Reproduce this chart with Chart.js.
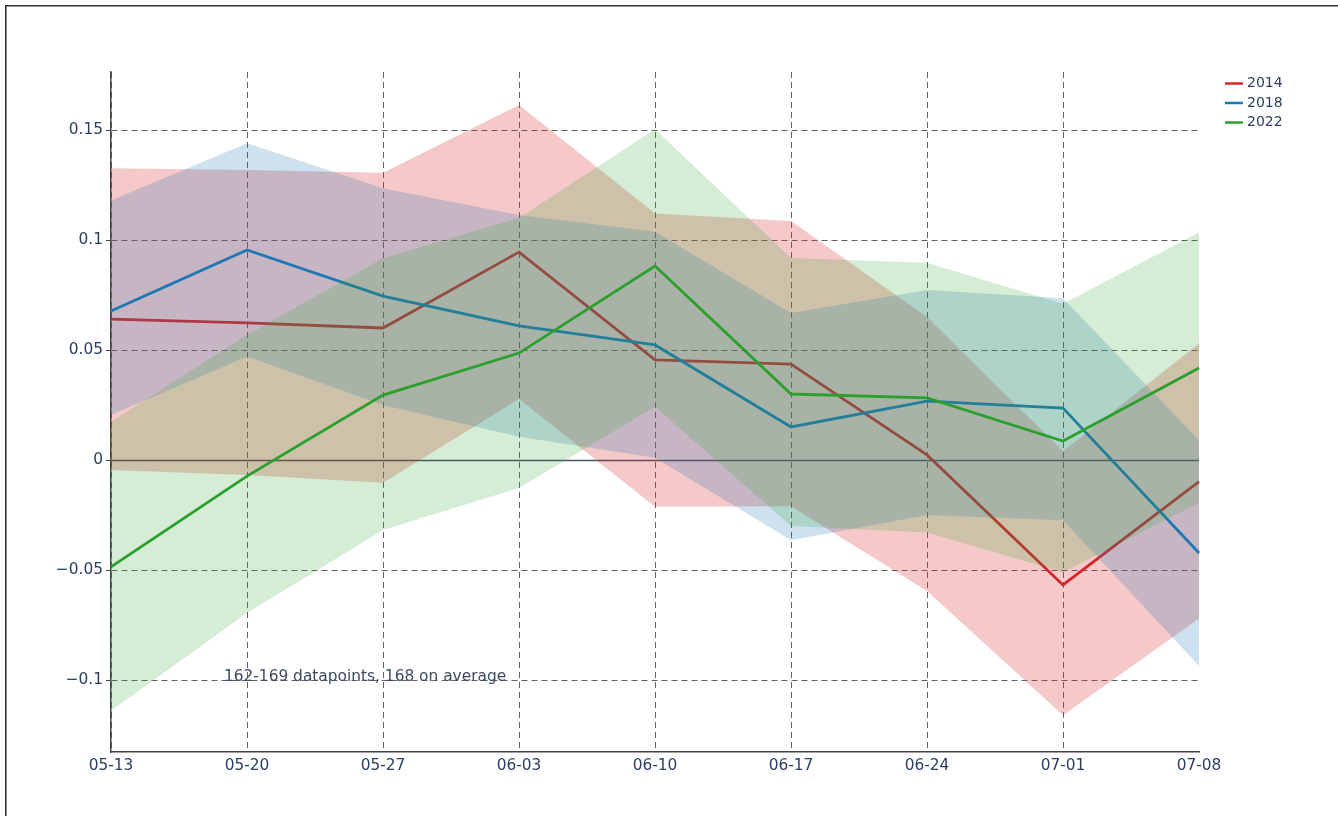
<!DOCTYPE html>
<html>
<head>
<meta charset="utf-8">
<title>Weekly values with ranges, 2014 / 2018 / 2022</title>
<script src="https://cdn.jsdelivr.net/npm/chart.js@4.4.1/dist/chart.umd.min.js"></script>
<style>
  html, body { margin: 0; padding: 0; background: #ffffff; }
  #wrap { width: 1338px; height: 816px; position: relative; }
</style>
</head>
<body>
<div id="wrap"><canvas id="chart" width="1338" height="816"></canvas></div>
<script>
// Week labels along the x axis
const weeks = ['05-13', '05-20', '05-27', '06-03', '06-10', '06-17', '06-24', '07-01', '07-08'];

// 2014: mean line and range
const mean2014 = [0.064, 0.0623, 0.060, 0.0945, 0.0455, 0.0436, 0.0023, -0.0568, -0.0098];
const high2014 = [0.1326, 0.1318, 0.1306, 0.1614, 0.1121, 0.1086, 0.065, 0.004, 0.053];
const low2014  = [-0.0045, -0.0068, -0.0103, 0.0277, -0.0212, -0.021, -0.0595, -0.116, -0.072];

// 2018: mean line and range
const mean2018 = [0.0677, 0.0955, 0.0745, 0.061, 0.0523, 0.015, 0.0268, 0.0236, -0.0423];
const high2018 = [0.118, 0.144, 0.1235, 0.1114, 0.1038, 0.0668, 0.0773, 0.0735, 0.009];
const low2018  = [0.0205, 0.047, 0.025, 0.0106, 0.001, -0.0365, -0.025, -0.0274, -0.0935];

// 2022: mean line and range
const mean2022 = [-0.0486, -0.0073, 0.0295, 0.0486, 0.0882, 0.030, 0.0282, 0.0086, 0.0418];
const high2022 = [0.0174, 0.0568, 0.0917, 0.110, 0.1503, 0.0918, 0.0897, 0.071, 0.1034];
const low2022  = [-0.114, -0.0695, -0.0318, -0.0127, 0.0242, -0.030, -0.033, -0.051, -0.0194];

// Y axis ticks and their printed labels
const yTickValues = [-0.1, -0.05, 0, 0.05, 0.1, 0.15];
const yTickLabels = ['\u22120.1', '\u22120.05', '0', '0.05', '0.1', '0.15'];

// Footnote text
const noteText = '162-169 datapoints, 168 on average';

const FONT = '"DejaVu Sans", Verdana, sans-serif';
const TEXT = '#2a3f5f';
const GRID = 'rgba(70,70,70,0.85)';

// one series = range band (upper filled down to lower) + mean line
function series(label, mean, high, low, rgb, fillAlpha, order) {
  return [
    {
      label: label + ' range',
      data: high,
      borderColor: 'rgba(0,0,0,0)',
      borderWidth: 0,
      pointRadius: 0,
      backgroundColor: 'rgba(' + rgb + ',' + fillAlpha + ')',
      fill: '+1',
      tension: 0,
      order: order + 2,
      isBand: true
    },
    {
      label: label + ' low',
      data: low,
      borderColor: 'rgba(0,0,0,0)',
      borderWidth: 0,
      pointRadius: 0,
      fill: false,
      tension: 0,
      order: order + 1,
      isBand: true
    },
    {
      label: label,
      data: mean,
      borderColor: 'rgb(' + rgb + ')',
      borderWidth: 2.8,
      pointRadius: 0,
      fill: false,
      tension: 0,
      order: order
    }
  ];
}

const datasets = [
  ...series('2014', mean2014, high2014, low2014, '214,39,40', 0.25, 7),
  ...series('2018', mean2018, high2018, low2018, '31,119,180', 0.22, 4),
  ...series('2022', mean2022, high2022, low2022, '44,160,44', 0.2, 1)
];

// zero line across the plot
const zeroLine = {
  id: 'zeroLine',
  beforeDatasetsDraw(chart) {
    const { ctx, chartArea, scales } = chart;
    const y = Math.round(scales.y.getPixelForValue(0)) + 0.5;
    ctx.save();
    ctx.strokeStyle = '#465368';
    ctx.lineWidth = 1.5;
    ctx.beginPath();
    ctx.moveTo(chartArea.left, y);
    ctx.lineTo(chartArea.right, y);
    ctx.stroke();
    ctx.restore();
  }
};

// footnote sitting on the -0.1 grid line
const footnote = {
  id: 'footnote',
  afterDatasetsDraw(chart) {
    const { ctx, chartArea, scales } = chart;
    const x = chartArea.left + (chartArea.right - chartArea.left) * 0.2335;
    const y = scales.y.getPixelForValue(-0.1) + 1;
    ctx.save();
    ctx.font = '15.4px ' + FONT;
    ctx.fillStyle = '#3c4b64';
    ctx.textAlign = 'center';
    ctx.textBaseline = 'alphabetic';
    ctx.fillText(noteText, x, y);
    ctx.restore();
  }
};

// legend in the right margin, one line sample per year
const sideLegend = {
  id: 'sideLegend',
  afterDraw(chart) {
    const { ctx, chartArea } = chart;
    const lines = chart.data.datasets.filter(d => !d.isBand);
    ctx.save();
    ctx.font = '14px ' + FONT;
    ctx.textBaseline = 'middle';
    ctx.textAlign = 'left';
    lines.forEach((d, i) => {
      const y = chartArea.top + 11.5 + i * 19.5;
      const x0 = chartArea.right + 26;
      ctx.strokeStyle = d.borderColor;
      ctx.lineWidth = 2.5;
      ctx.beginPath();
      ctx.moveTo(x0, y);
      ctx.lineTo(x0 + 18, y);
      ctx.stroke();
      ctx.fillStyle = TEXT;
      ctx.fillText(d.label, x0 + 22, y);
    });
    ctx.restore();
  }
};

// outer frame (left and top edges)
const frame = {
  id: 'frame',
  afterDraw(chart) {
    const { ctx, width, height } = chart;
    ctx.save();
    ctx.strokeStyle = '#333333';
    ctx.lineWidth = 1.6;
    ctx.beginPath();
    ctx.moveTo(5.8, height);
    ctx.lineTo(5.8, 5.8);
    ctx.lineTo(width, 5.8);
    ctx.stroke();
    ctx.restore();
  }
};

new Chart(document.getElementById('chart'), {
  type: 'line',
  data: { labels: weeks, datasets: datasets },
  plugins: [zeroLine, footnote, sideLegend, frame],
  options: {
    responsive: false,
    animation: false,
    devicePixelRatio: 1,
    layout: { padding: { top: 72, right: 139, bottom: 0, left: 0 } },
    plugins: {
      legend: { display: false },
      tooltip: { enabled: false },
      filler: { drawTime: 'beforeDatasetDraw' }
    },
    elements: { line: { borderJoinStyle: 'miter' } },
    scales: {
      x: {
        type: 'category',
        offset: false,
        grid: {
          color: (c) => (c.index === weeks.length - 1 ? 'rgba(0,0,0,0)' : GRID),
          lineWidth: 1,
          drawTicks: false
        },
        border: { display: true, color: '#444444', width: 1.5, dash: [6, 4] },
        ticks: {
          font: { family: FONT, size: 15.4 },
          color: TEXT,
          padding: 5,
          maxRotation: 0,
          autoSkip: false
        },
        afterFit: (s) => { s.height = 64; }
      },
      y: {
        type: 'linear',
        min: -(752 - 460) / 2200,
        max: (460 - 72) / 2200,
        afterBuildTicks: (s) => { s.ticks = yTickValues.map(v => ({ value: v })); },
        grid: {
          color: (c) => (c.tick && Math.abs(c.tick.value) < 1e-9 ? 'rgba(0,0,0,0)' : GRID),
          lineWidth: 1,
          tickColor: '#444444',
          tickLength: 5,
          tickWidth: 1
        },
        border: { display: true, color: '#444444', width: 1.5, dash: [6, 4] },
        ticks: {
          font: { family: FONT, size: 15.4 },
          color: TEXT,
          padding: 3,
          callback: (v) => {
            const i = yTickValues.findIndex(t => Math.abs(t - v) < 1e-9);
            return i >= 0 ? yTickLabels[i] : '';
          }
        },
        afterFit: (s) => { s.width = 111; }
      }
    }
  }
});
</script>
</body>
</html>
